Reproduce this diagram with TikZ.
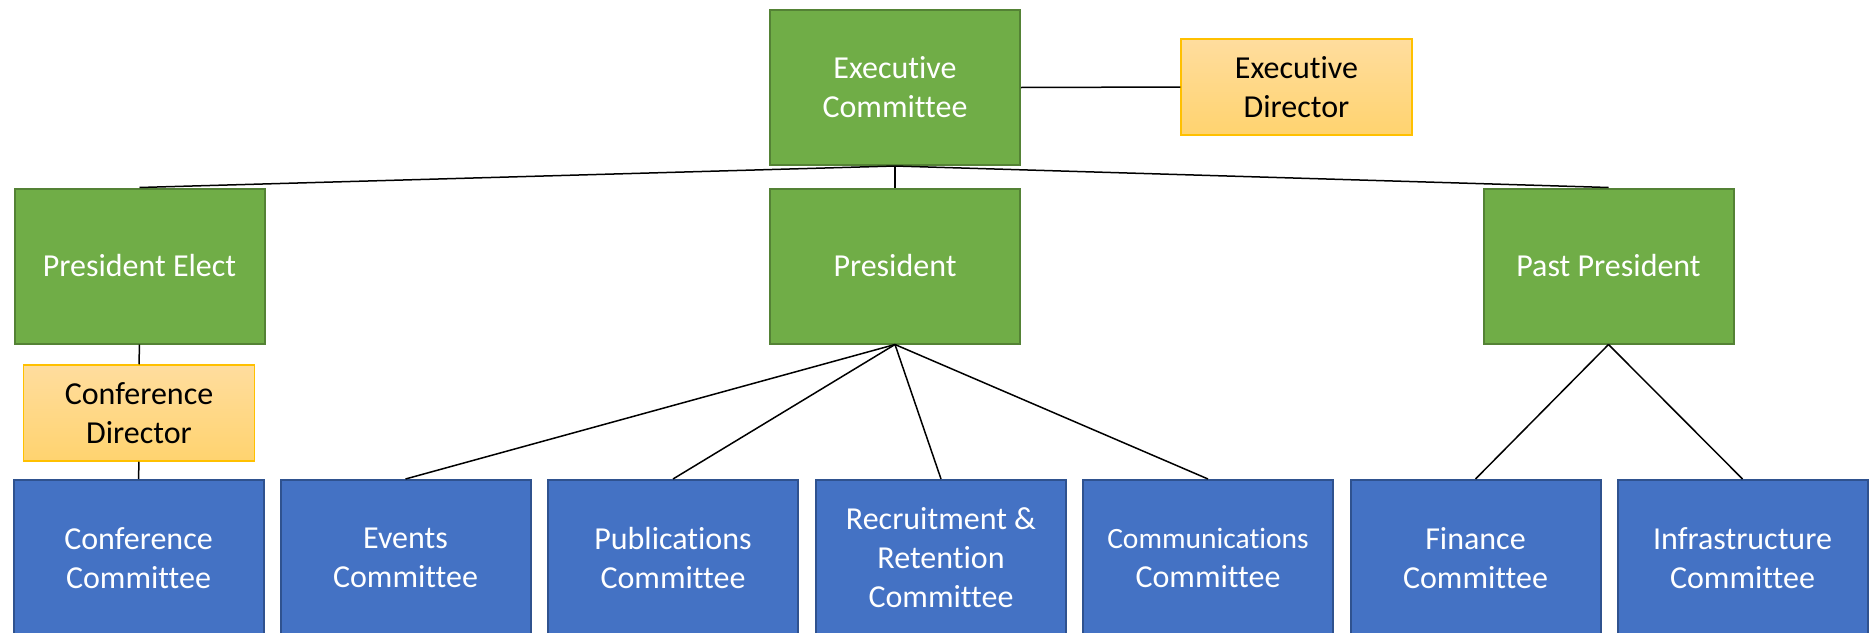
\documentclass[tikz,border=0pt]{standalone}
\usepackage{fontspec}
\setmainfont[Ligatures=NoCommon]{Carlito}
\definecolor{grfill}{HTML}{70AD47}
\definecolor{grline}{HTML}{548235}
\definecolor{blfill}{HTML}{4472C4}
\definecolor{blline}{HTML}{2F528F}
\definecolor{ortop}{HTML}{FFDD9E}
\definecolor{orbot}{HTML}{FFD36F}
\definecolor{orline}{HTML}{FFC000}
\tikzset{
  box/.style={rectangle, minimum width=250pt, minimum height=155pt, align=center, inner sep=2pt,
    font=\fontsize{32}{39}\selectfont, text=white, line width=2pt},
  greenbox/.style={box, fill=grfill, draw=grline},
  bluebox/.style={box, fill=blfill, draw=blline, minimum height=156pt},
  orangebox/.style={rectangle, minimum width=231pt, minimum height=96pt, align=center, inner sep=2pt,
    font=\fontsize{32}{39}\selectfont, text=black, line width=1.5pt, draw=orline,
    top color=ortop, bottom color=orbot},
  link/.style={draw=black, line width=1.5pt}
}
\begin{document}
\begin{tikzpicture}[x=1pt,y=-1pt]
\useasboundingbox (0,0) rectangle (1871,632);
\clip (0,0) rectangle (1871,632);
\node[greenbox] (ec) at (895,87.5) {Executive\\Committee};
\node[orangebox] (ed) at (1296.5,87) {Executive\\Director};
\node[greenbox] (pe) at (139.5,266) {President Elect};
\node[greenbox] (pr) at (895,266) {President};
\node[greenbox] (pp) at (1608.5,266) {Past President};
\node[orangebox] (cd) at (139,413) {Conference\\Director};
\node[bluebox] (cc) at (138.5,558) {Conference\\Committee};
\node[bluebox] (ev) at (405.5,558) {Events\\Committee};
\node[bluebox] (pu) at (673,558) {Publications\\Committee};
\node[bluebox] (rr) at (941,558) {Recruitment \&\\Retention\\Committee};
\node[bluebox] (co) at (1208,558) {{\fontsize{29.5}{39}\selectfont Communications}\\Committee};
\node[bluebox] (fi) at (1475.5,558) {Finance\\Committee};
\node[bluebox] (in) at (1742.5,558) {Infrastructure\\Committee};
\draw[link] (ec.east) -- (ed.west);
\draw[link] (ec.south) -- (pe.north);
\draw[link] (ec.south) -- (pr.north);
\draw[link] (ec.south) -- (pp.north);
\draw[link] (pe.south) -- (cd.north);
\draw[link] (cd.south) -- (cc.north);
\draw[link] (pr.south) -- (ev.north);
\draw[link] (pr.south) -- (pu.north);
\draw[link] (pr.south) -- (rr.north);
\draw[link] (pr.south) -- (co.north);
\draw[link] (pp.south) -- (fi.north);
\draw[link] (pp.south) -- (in.north);
\end{tikzpicture}
\end{document}
